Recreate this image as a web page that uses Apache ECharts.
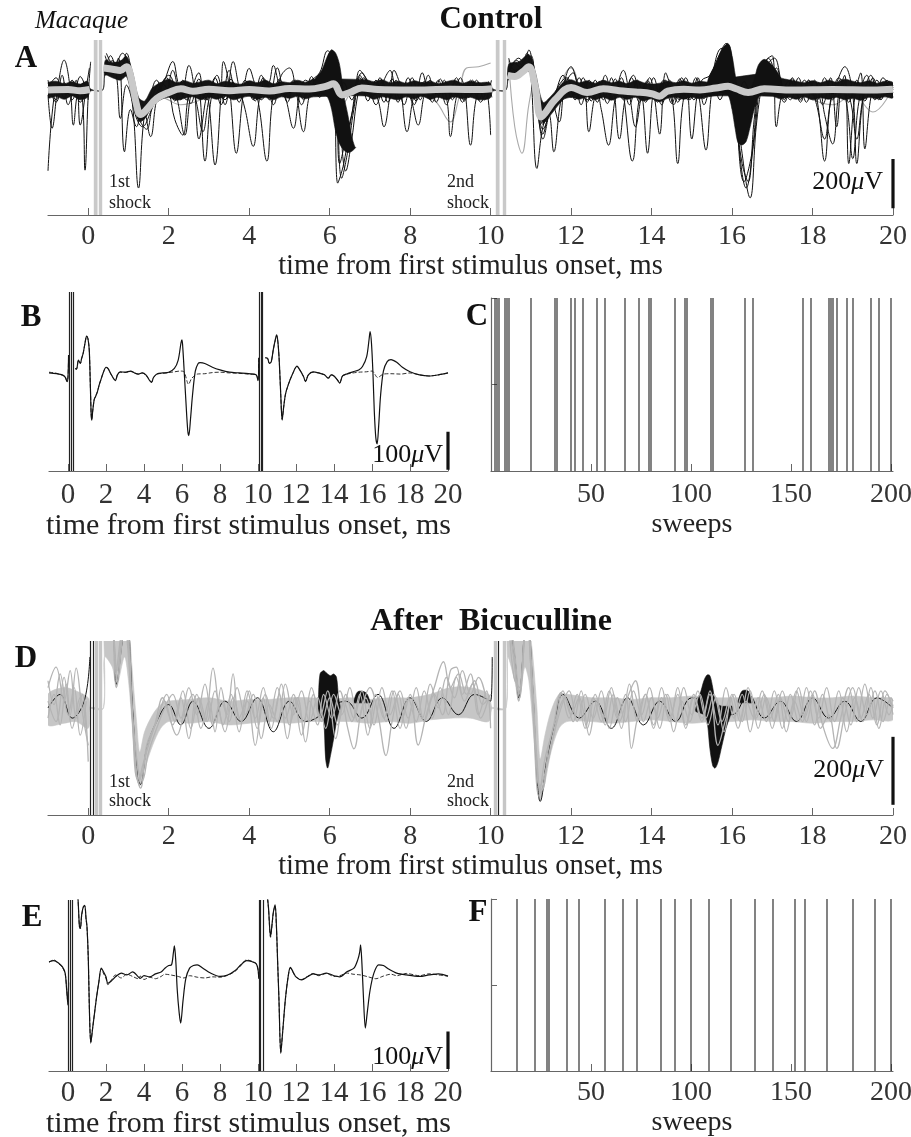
<!DOCTYPE html>
<html>
<head>
<meta charset="utf-8">
<title>Macaque - Control / After Bicuculline</title>
<script src="https://cdn.jsdelivr.net/npm/echarts@6/dist/echarts.min.js"></script>
<style>
  html, body { margin: 0; padding: 0; background: #fff; }
  #main { width: 911px; height: 1137px; }
</style>
</head>
<body>
<div id="main"></div>
<script>
// ---------- tick labels ----------
const timeTicks = [0, 2, 4, 6, 8, 10, 12, 14, 16, 18, 20];
const sweepTicks = [50, 100, 150, 200];

// ---------- panel A (control, single sweeps), [ms, uV] ----------
const aMean = [[-1,0],[-0.5,2],[-0.2,-3],[0.04,2],[0.1,'-'],[0.38,90],[0.6,85],[0.8,80],[0.95,95],[1.05,60],[1.2,-60],[1.3,-100],[1.45,-80],[1.7,-35],[2.0,-10],[2.3,5],[2.6,-5],[3.0,3],[3.5,-3],[4.0,2],[4.5,-4],[5.0,6],[5.5,4],[5.9,15],[6.1,25],[6.3,-20],[6.5,-10],[6.8,8],[7.2,2],[8,0],[9,3],[9.8,2],[10.04,5],[10.1,'-'],[10.42,60],[10.6,55],[10.8,75],[10.95,95],[11.1,20],[11.25,-110],[11.35,-95],[11.6,-40],[12.0,10],[12.4,-10],[12.8,5],[13.2,-3],[13.6,-8],[14.0,-15],[14.2,-25],[14.4,-5],[14.8,3],[15.2,0],[15.6,8],[15.9,15],[16.1,5],[16.4,-10],[16.8,5],[17.5,0],[18.5,2],[19.5,0],[20,3]];
// dense black cloud of sweeps: [ms, low, high]
const aBand = [[-1,-32,28],[-0.8,-26,36],[-0.6,-38,26],[-0.4,-24,34],[-0.2,-40,24],[-0.02,-30,36],[0.06,-4,4],[0.36,0,0],[0.42,60,120],[0.6,50,112],[0.8,40,118],[0.95,55,138],[1.1,-40,75],[1.25,-125,-30],[1.4,-118,-45],[1.6,-65,10],[1.8,-40,30],[2.0,-30,44],[2.2,-42,30],[2.4,-34,38],[2.6,-28,28],[2.8,-40,34],[3.0,-30,40],[3.2,-38,26],[3.4,-26,36],[3.6,-40,30],[3.8,-32,24],[4.0,-26,38],[4.2,-38,30],[4.4,-30,40],[4.6,-40,26],[4.8,-28,34],[5.0,-34,30],[5.2,-26,40],[5.4,-36,32],[5.6,-28,44],[6.9,-24,42],[7.1,-38,34],[7.3,-28,42],[7.5,-34,30],[7.7,-40,36],[7.9,-28,28],[8.1,-36,38],[8.3,-26,30],[8.5,-38,36],[8.7,-30,26],[8.9,-40,34],[9.1,-28,40],[9.3,-36,28],[9.5,-30,36],[9.7,-40,30],[9.98,-34,30],[10.06,-4,4],[10.38,0,0],[10.45,45,105],[10.7,55,115],[10.95,75,145],[11.1,-10,80],[11.3,-135,-50],[11.5,-100,-25],[11.8,-40,30],[12.0,-30,42],[12.2,-38,30],[12.4,-28,38],[12.6,-40,28],[12.8,-30,40],[13.0,-42,30],[13.2,-30,36],[13.4,-38,26],[13.6,-30,40],[13.8,-44,30],[14.0,-36,24],[14.2,-48,28],[14.4,-34,36],[14.6,-30,30],[14.8,-38,38],[15.0,-30,28],[15.2,-36,36],[15.4,-28,32],[15.6,-24,40],[17.0,-26,70],[17.2,-36,50],[17.4,-30,42],[17.6,-38,36],[17.8,-28,30],[18.0,-40,38],[18.2,-32,30],[18.4,-38,40],[18.6,-30,32],[18.8,-40,44],[19.0,-34,36],[19.2,-42,30],[19.4,-30,38],[19.6,-36,28],[19.8,-28,36],[20,-32,30]];
const aSpike1 = [[5.6,-20,35],[5.8,-15,80],[5.95,-30,140],[6.05,-80,163],[6.15,-170,150],[6.25,-220,100],[6.35,-245,-20],[6.45,-255,-100],[6.55,-250,-190],[6.62,-240,-230],[6.65,-235,-235]];
const aSpike2 = [[15.4,-20,40],[15.6,-15,110],[15.75,-10,165],[15.9,-20,190],[16.0,-80,140],[16.08,-160,60],[16.15,-215,0],[16.25,-224,-20],[16.35,-210,-15],[16.45,-150,0],[16.55,-80,40],[16.65,-30,100],[16.8,-10,125],[17.0,-15,100],[17.2,-20,50]];
const aSweep1 = [[-1,-330],[-0.85,-30],[-0.7,25],[-0.5,-15],[-0.3,20],[-0.15,-30],[-0.08,-327],[0,-20],[0.06,115],[0.1,'-'],[0.4,70],[0.55,140],[0.7,60],[0.8,-116],[0.95,20],[1.1,-60],[1.25,-400],[1.4,-100],[1.6,-20],[1.8,30],[2.0,-10],[2.15,-120],[2.35,-184],[2.5,-20],[2.7,30],[2.9,-290],[3.05,-40],[3.2,20],[3.4,-40],[3.6,30],[3.8,-20],[4.0,25],[4.2,-30],[4.44,-290],[4.6,-20],[4.8,30],[5.0,-10],[5.2,20],[5.4,-20],[5.6,10],[5.8,60],[6.0,140],[6.1,150],[6.2,-380],[6.35,-300],[6.55,-100],[6.75,60],[6.9,20],[7.1,-20],[7.3,30],[7.5,-30],[7.7,20],[7.92,-170],[8.1,-20],[8.3,30],[8.5,-25],[8.7,20],[8.9,-30],[9.0,-190],[9.15,-30],[9.3,20],[9.5,-20],[9.7,30],[9.9,-10],[10.02,40],[10.08,'-'],[10.42,60],[10.6,110],[10.75,90],[10.9,150],[11.0,60],[11.15,-320],[11.3,-150],[11.5,-60],[11.7,20],[11.9,50],[12.1,-20],[12.3,30],[12.44,-170],[12.6,-20],[12.8,40],[13.0,-30],[13.2,20],[13.52,-290],[13.7,-30],[13.9,30],[14.1,-20],[14.3,40],[14.5,-20],[14.65,-300],[14.8,-30],[15.0,20],[15.2,-20],[15.4,30],[15.6,100],[15.85,180],[16.0,60],[16.2,-200],[16.45,-440],[16.6,-150],[16.75,30],[16.9,130],[17.1,60],[17.3,-20],[17.5,30],[17.7,-20],[17.9,30],[18.1,-30],[18.3,-290],[18.45,-40],[18.6,30],[18.8,95],[19.0,-20],[19.1,-300],[19.25,-40],[19.4,30],[19.6,-20],[19.8,20],[20,-10]];
const aSweep2 = [[-1,-20],[-0.9,-156],[-0.75,20],[-0.6,122],[-0.45,10],[-0.37,-143],[-0.25,0],[-0.1,30],[0,-40],[0.08,'-'],[0.42,110],[0.6,90],[0.75,130],[0.9,-252],[1.05,-80],[1.2,-150],[1.35,-60],[1.55,-190],[1.7,-40],[1.9,40],[2.1,116],[2.25,20],[2.45,-40],[2.6,20],[2.75,-200],[2.95,-30],[3.15,-306],[3.3,-20],[3.36,116],[3.5,20],[3.68,-258],[3.85,-20],[4.0,88],[4.15,20],[4.3,-40],[4.5,30],[4.6,100],[4.75,20],[4.9,-30],[5.1,-156],[5.25,-20],[5.4,40],[5.6,20],[5.85,80],[6.05,163],[6.15,100],[6.3,-360],[6.45,-250],[6.6,-80],[6.8,70],[7.0,20],[7.2,-40],[7.35,-150],[7.5,-20],[7.6,80],[7.8,10],[8.0,-30],[8.2,-143],[8.35,-20],[8.5,40],[8.7,-20],[8.9,30],[9.1,-30],[9.3,20],[9.5,-225],[9.65,-30],[9.85,20],[10.0,-184],[10.05,'-'],[10.45,130],[10.6,80],[10.8,100],[10.95,163],[11.1,0],[11.3,-180],[11.45,-100],[11.57,-252],[11.75,-40],[12.0,95],[12.2,10],[12.4,-40],[12.6,20],[12.75,-80],[12.93,-225],[13.1,-30],[13.3,80],[13.45,-20],[13.6,-150],[13.75,-30],[13.9,-258],[14.05,-20],[14.2,-180],[14.35,70],[14.5,10],[14.7,-40],[14.85,30],[15.0,-200],[15.15,-20],[15.35,-245],[15.5,0],[15.7,130],[15.9,185],[16.05,20],[16.3,-374],[16.5,-250],[16.65,0],[16.85,120],[17.0,140],[17.1,-150],[17.25,-10],[17.45,40],[17.6,-20],[17.8,40],[18.0,-20],[18.15,30],[18.3,-100],[18.5,-220],[18.65,-20],[18.8,60],[18.9,-300],[19.05,-30],[19.2,70],[19.3,-240],[19.45,-30],[19.6,40],[19.8,-20],[20,20]];
const aSweep3 = [[-1,30],[-0.8,-40],[-0.65,60],[-0.5,-60],[-0.3,40],[-0.2,-143],[-0.05,10],[0.03,90],[0.08,'-'],[0.45,150],[0.65,100],[0.85,150],[1.0,100],[1.15,-40],[1.3,-130],[1.5,-50],[1.7,40],[1.9,-30],[2.1,80],[2.3,-40],[2.5,100],[2.7,-60],[2.85,-170],[3.0,-40],[3.2,60],[3.4,-60],[3.6,116],[3.75,10],[3.9,-80],[4.1,-230],[4.25,-40],[4.4,40],[4.6,-60],[4.8,60],[5.0,90],[5.15,10],[5.35,-170],[5.5,-20],[5.7,40],[5.9,100],[6.0,150],[6.15,60],[6.25,-300],[6.4,-200],[6.6,-60],[6.75,80],[6.95,30],[7.15,-60],[7.35,40],[7.5,80],[7.7,-50],[7.9,30],[8.1,-60],[8.3,70],[8.5,-40],[8.7,40],[8.9,-60],[9.1,30],[9.3,-50],[9.5,40],[9.7,-40],[9.9,30],[10.03,-30],[10.08,'-'],[10.45,80],[10.7,130],[10.85,110],[11.0,140],[11.12,20],[11.3,-140],[11.5,-40],[11.7,-130],[11.85,20],[12.05,70],[12.25,-60],[12.45,40],[12.65,-50],[12.85,60],[13.05,-40],[13.25,50],[13.45,-60],[13.65,40],[13.85,-50],[14.05,50],[14.25,-60],[14.45,40],[14.65,-50],[14.85,50],[15.05,-40],[15.25,40],[15.45,60],[15.7,150],[15.85,190],[16.0,100],[16.15,-200],[16.35,-400],[16.55,-200],[16.7,20],[16.9,100],[17.1,30],[17.3,-50],[17.5,50],[17.7,-40],[17.9,40],[18.1,-60],[18.3,-200],[18.45,-50],[18.65,50],[18.85,-60],[19.0,-280],[19.15,-50],[19.35,60],[19.55,-40],[19.75,50],[20,-30]];
const aSweep4 = [[-1,10],[-0.8,50],[-0.6,-30],[-0.4,40],[-0.2,-50],[0,20],[0.08,'-'],[0.42,60],[0.6,120],[0.8,70],[0.95,150],[1.1,40],[1.25,-110],[1.45,-160],[1.6,-60],[1.8,20],[2.0,60],[2.2,-30],[2.4,-184],[2.55,-20],[2.75,70],[2.9,-40],[3.1,30],[3.3,-60],[3.5,80],[3.7,-30],[3.9,40],[4.1,-40],[4.3,60],[4.5,-40],[4.7,90],[4.9,-20],[5.1,40],[5.3,-60],[5.5,30],[5.75,70],[5.95,160],[6.1,120],[6.25,-120],[6.4,-330],[6.55,-200],[6.7,-20],[6.85,50],[7.05,-30],[7.25,50],[7.45,-50],[7.65,40],[7.85,-60],[8.05,50],[8.25,-40],[8.45,60],[8.65,-50],[8.85,40],[9.05,-40],[9.25,50],[9.45,-30],[9.65,40],[9.85,-40],[10.0,20],[10.06,'-'],[10.45,90],[10.65,60],[10.85,120],[11.0,100],[11.15,-50],[11.3,-200],[11.45,-100],[11.6,-20],[11.8,60],[12.0,-30],[12.2,50],[12.4,-50],[12.6,40],[12.8,-40],[13.0,50],[13.2,-200],[13.35,-30],[13.55,60],[13.75,-40],[13.95,50],[14.15,-50],[14.35,40],[14.55,-60],[14.75,50],[14.95,-40],[15.15,50],[15.3,-60],[15.5,60],[15.75,170],[15.95,160],[16.1,-100],[16.25,-300],[16.4,-374],[16.55,-120],[16.7,60],[16.9,110],[17.05,130],[17.25,20],[17.45,-40],[17.65,50],[17.85,-50],[18.05,40],[18.25,-60],[18.45,50],[18.6,-150],[18.75,40],[18.95,-50],[19.1,-200],[19.25,-40],[19.45,60],[19.65,-40],[19.85,40],[20,0]];
const aSweep5 = [[-1,40],[-0.8,-50],[-0.6,30],[-0.4,-40],[-0.2,55],[0,-30],[0.08,'-'],[0.42,140],[0.62,70],[0.82,120],[1.0,60],[1.15,-90],[1.35,-150],[1.55,-90],[1.75,-10],[1.95,50],[2.15,-45],[2.35,40],[2.55,-55],[2.75,45],[2.95,-40],[3.15,50],[3.35,-35],[3.55,45],[3.75,-50],[3.95,35],[4.15,-45],[4.35,50],[4.55,-35],[4.75,45],[4.95,-50],[5.15,40],[5.35,-40],[5.55,55],[5.75,-30],[5.95,40],[6.15,-50],[6.35,30],[6.55,-40],[6.75,50],[6.95,-45],[7.15,40],[7.35,-50],[7.55,45],[7.75,-35],[7.95,50],[8.15,-45],[8.35,35],[8.55,-50],[8.75,45],[8.95,-40],[9.15,50],[9.35,-45],[9.55,40],[9.75,-50],[9.95,35],[10.05,'-'],[10.45,70],[10.65,120],[10.85,90],[11.0,130],[11.15,-20],[11.3,-160],[11.5,-80],[11.7,0],[11.9,45],[12.1,-40],[12.3,50],[12.5,-45],[12.7,35],[12.9,-55],[13.1,45],[13.3,-40],[13.5,50],[13.7,-50],[13.9,40],[14.1,-45],[14.3,30],[14.5,-55],[14.7,45],[14.9,-40],[15.1,50],[15.3,-35],[15.5,45],[15.7,-40],[15.9,40],[16.1,-50],[16.3,35],[16.5,-40],[16.7,70],[16.9,40],[17.1,90],[17.3,-40],[17.5,45],[17.7,-50],[17.9,40],[18.1,-45],[18.3,50],[18.5,-40],[18.7,45],[18.9,-50],[19.1,40],[19.3,-45],[19.5,50],[19.7,-40],[19.9,35],[20,10]];
const aGraySweep = [[-1,10],[-0.5,-20],[0,15],[0.08,'-'],[0.45,120],[0.9,90],[1.3,-90],[1.8,-30],[2.3,-60],[2.8,-40],[3.3,10],[4,-10],[5,15],[6,30],[6.3,-60],[6.7,20],[7.5,-10],[8.3,20],[8.7,-60],[9.0,-130],[9.2,-40],[9.4,90],[9.7,95],[10.0,110],[10.05,'-'],[10.45,120],[10.6,-150],[10.78,-258],[10.95,-60],[11.1,40],[11.3,-110],[11.6,-30],[12.0,90],[12.4,-40],[13,10],[14,-20],[15,10],[16,20],[16.3,-40],[17,20],[18,-40],[18.5,-60],[19,-20],[19.5,-90],[20,10]];
const aShockGray = [0.165, 0.295, 10.16, 10.345];
const aShockBlack = [0.21, 10.2];
const aScale = [-482, -282];

// ---------- panel B (control, averages) ----------
const bWithSpike = [[-1,0],[-0.6,-2],[-0.3,-5],[-0.15,-11],[-0.05,-23],[0.0,-10],[0.03,47],[0.05,'-'],[0.38,12],[0.45,10],[0.55,34],[0.65,25],[0.72,39],[0.8,52],[0.9,80],[0.98,97],[1.05,90],[1.12,60],[1.18,-40],[1.22,-110],[1.25,-124],[1.3,-100],[1.38,-70],[1.45,-62],[1.55,-49],[1.65,-30],[1.75,-15],[1.85,0],[2.0,15],[2.1,12],[2.25,-2],[2.4,-15],[2.5,-20],[2.6,-5],[2.75,3],[3.0,2],[3.3,5],[3.5,0],[3.7,-3],[3.9,0],[4.1,-5],[4.3,-20],[4.4,-25],[4.5,-12],[4.7,-2],[5.0,0],[5.3,2],[5.6,12],[5.8,34],[5.95,80],[6.0,87],[6.05,60],[6.12,0],[6.2,-70],[6.3,-150],[6.36,-165],[6.45,-120],[6.55,-60],[6.7,5],[6.85,25],[6.95,27],[7.2,25],[7.6,15],[8.0,8],[8.5,2],[9.0,0],[9.5,-2],[9.9,-5],[10.0,-20],[10.04,40],[10.06,'-'],[10.38,40],[10.5,39],[10.6,25],[10.7,30],[10.8,60],[10.9,85],[10.98,100],[11.05,80],[11.12,30],[11.2,-60],[11.27,-124],[11.35,-90],[11.45,-55],[11.6,-30],[11.8,-5],[12.05,18],[12.2,8],[12.4,-10],[12.5,-23],[12.65,-5],[12.9,3],[13.2,0],[13.5,-5],[13.7,-14],[13.85,-5],[14.0,-8],[14.2,-20],[14.3,-27],[14.45,-8],[14.7,-2],[15.0,3],[15.3,8],[15.5,17],[15.72,43],[15.85,90],[15.9,109],[15.97,80],[16.05,0],[16.12,-100],[16.2,-170],[16.27,-187],[16.35,-140],[16.45,-60],[16.6,5],[16.8,30],[17.0,35],[17.3,28],[17.6,15],[18.0,3],[18.5,-5],[19.0,-8],[19.5,-5],[20,0]];
const bNoSpike = [[-1,2],[-0.6,-1],[-0.3,-6],[-0.15,-10],[-0.05,-22],[0.0,-10],[0.03,45],[0.05,'-'],[0.38,12],[0.45,10],[0.55,33],[0.65,25],[0.72,38],[0.8,52],[0.9,80],[0.98,96],[1.05,90],[1.12,60],[1.18,-40],[1.22,-108],[1.25,-122],[1.3,-100],[1.38,-70],[1.45,-62],[1.55,-49],[1.65,-30],[1.75,-15],[1.85,0],[2.0,14],[2.1,12],[2.25,-2],[2.4,-15],[2.5,-20],[2.6,-5],[2.75,2],[3.0,1],[3.3,4],[3.5,0],[3.7,-3],[3.9,0],[4.1,-6],[4.3,-19],[4.4,-24],[4.5,-12],[4.7,-3],[5.0,-1],[5.3,1],[5.6,3],[5.9,5],[6.1,3],[6.35,-30],[6.5,-15],[6.8,-3],[7.2,-2],[7.6,1],[8.0,2],[8.5,0],[9.0,-1],[9.5,-3],[9.9,-5],[10.0,-20],[10.04,40],[10.06,'-'],[10.38,40],[10.5,38],[10.6,25],[10.7,30],[10.8,60],[10.9,84],[10.98,99],[11.05,80],[11.12,30],[11.2,-60],[11.27,-122],[11.35,-90],[11.45,-55],[11.6,-30],[11.8,-5],[12.05,17],[12.2,8],[12.4,-10],[12.5,-22],[12.65,-5],[12.9,2],[13.2,0],[13.5,-5],[13.7,-13],[13.85,-5],[14.0,-8],[14.2,-19],[14.3,-26],[14.45,-8],[14.7,-3],[15.0,0],[15.3,2],[15.7,3],[16.0,5],[16.3,-12],[16.6,-3],[17.0,-2],[17.5,-3],[18.0,0],[18.5,-5],[19.0,-8],[19.5,-5],[20,0]];
const bShock = [0.05, 0.16, 0.25, 10.07, 10.15, 10.24];
const bScale = [-255, -155];

// ---------- panel C (control, sweeps with a spike) ----------
const cSweeps = [2,3,4,7,8,9,20,32,33,40,42,46,53,57,67,74,79,80,92,97,98,110,111,127,131,156,160,169,170,171,173,178,181,190,194,200];

// ---------- panel D (bicuculline, single sweeps) ----------
const dBand = [[-1,-50,40],[-0.6,-45,60],[-0.3,-40,50],[0,-60,30],[0.06,0,0],[0.38,0,0],[0.4,150,300],[0.6,120,300],[0.7,60,200],[0.9,150,300],[1.0,80,250],[1.1,-60,100],[1.2,-200,-40],[1.28,-230,-130],[1.4,-180,-70],[1.6,-110,-20],[1.8,-60,10],[2.0,-40,20],[2.5,-45,25],[3.0,-40,30],[3.5,-50,20],[4.0,-45,25],[4.5,-40,25],[5.0,-45,30],[5.5,-40,30],[6.0,-40,25],[6.5,-40,30],[7.0,-45,25],[7.5,-40,30],[8.0,-45,30],[8.5,-35,40],[9.0,-30,60],[9.5,-30,60],[9.95,-40,40],[10.05,0,0],[10.38,0,0],[10.42,150,300],[10.6,80,300],[10.7,20,200],[10.85,120,300],[10.95,80,250],[11.05,-50,150],[11.15,-200,0],[11.23,-270,-150],[11.35,-220,-80],[11.5,-130,-10],[11.7,-60,40],[11.9,-40,40],[12.5,-40,30],[13,-45,30],[13.5,-40,25],[14,-35,30],[14.5,-40,30],[15,-45,35],[15.5,-40,30],[16,-40,30],[16.5,-35,30],[17,-40,30],[17.5,-40,35],[18,-45,30],[18.5,-40,30],[19,-40,35],[19.5,-35,30],[20,-35,25]];
const dSpike1 = [[5.72,-10,20],[5.76,-20,100],[5.85,-40,110],[5.9,-150,105],[5.95,-177,100],[6.02,-140,95],[6.1,-90,100],[6.17,-40,90],[6.22,-15,30],[6.26,-5,5]];
const dSpike2 = [[15.1,-10,20],[15.2,-15,40],[15.3,-20,80],[15.38,-40,97],[15.45,-120,95],[15.52,-170,60],[15.58,-177,20],[15.65,-160,10],[15.75,-110,5],[15.85,-60,5],[15.95,-25,5],[16.0,-10,5]];
const dBump1 = [[6.6,15,20],[6.7,15,48],[6.9,15,45],[7.0,15,20]];
const dBump2 = [[16.15,15,20],[16.25,15,50],[16.4,15,50],[16.5,15,20]];
const dBlackSweep = [[-1,0],[-0.7,40],[-0.4,-30],[-0.1,20],[0.04,150],[0.05,'-'],[0.4,300],[0.6,240],[0.7,70],[0.88,220],[0.97,230],[1.1,0],[1.22,-200],[1.3,-225],[1.45,-120],[1.7,-40],[2.0,10],[2.3,-50],[2.6,20],[3.0,-60],[3.4,20],[3.8,-40],[4.2,30],[4.6,-70],[5.0,20],[5.4,-40],[6.4,20],[6.8,-30],[7.2,40],[7.6,-60],[8.0,30],[8.4,-40],[8.8,30],[9.2,-20],[9.6,40],[10.0,20],[10.04,150],[10.05,'-'],[10.42,300],[10.6,150],[10.7,30],[10.9,290],[11.05,50],[11.15,-200],[11.23,-275],[11.4,-150],[11.6,-40],[11.8,40],[12.2,-30],[12.6,20],[13.0,-60],[13.4,30],[13.8,-50],[14.2,20],[14.6,-40],[15.0,30],[16.0,-20],[16.4,40],[16.8,-30],[17.2,20],[17.6,-40],[18.0,30],[18.4,-30],[18.8,20],[19.2,-40],[19.6,30],[20,0]];
const dGraySweep1 = [[-1,60],[-0.8,120],[-0.6,20],[-0.45,110],[-0.3,-30],[-0.15,40],[0,-158],[0.05,'-'],[0.4,300],[0.55,300],[0.7,60],[0.85,200],[0.95,230],[1.05,50],[1.2,-190],[1.3,-236],[1.45,-110],[1.65,-50],[1.85,30],[2.0,-20],[2.2,-80],[2.4,-10],[2.6,40],[2.8,-60],[3.0,20],[3.15,-70],[3.3,60],[3.45,-20],[3.6,100],[3.75,-30],[3.95,20],[4.15,-110],[4.35,30],[4.5,-40],[4.7,60],[4.9,-30],[5.1,40],[5.3,-80],[5.5,20],[5.7,-50],[5.85,40],[6.05,-30],[6.25,50],[6.45,-60],[6.6,-120],[6.8,0],[7.0,60],[7.2,-20],[7.4,-140],[7.55,-40],[7.75,50],[7.95,-30],[8.15,60],[8.35,-40],[8.6,40],[8.8,-20],[9.0,110],[9.15,120],[9.3,40],[9.5,100],[9.7,-20],[9.9,50],[10.0,-60],[10.05,'-'],[10.42,300],[10.55,200],[10.7,20],[10.9,260],[11.05,0],[11.2,-260],[11.35,-150],[11.55,-60],[11.75,45],[11.95,-30],[12.15,40],[12.35,-60],[12.55,30],[12.75,-40],[12.95,50],[13.15,-30],[13.35,40],[13.5,-119],[13.65,-30],[13.85,40],[14.05,-60],[14.25,30],[14.45,-40],[14.65,60],[14.85,-50],[15.05,40],[15.25,-30],[15.45,50],[15.65,-110],[15.85,-30],[16.05,40],[16.25,-40],[16.45,50],[16.65,-60],[16.85,30],[17.05,-40],[17.25,50],[17.45,-30],[17.65,60],[17.85,-40],[18.05,50],[18.25,-50],[18.5,-119],[18.7,-30],[18.9,60],[19.1,-40],[19.3,70],[19.5,-30],[19.7,50],[19.9,-20],[20,10]];
const dGraySweep2 = [[-1,-30],[-0.85,40],[-0.7,-50],[-0.55,70],[-0.4,-60],[-0.2,30],[-0.05,-60],[0.05,'-'],[0.42,250],[0.6,220],[0.72,80],[0.9,250],[1.0,150],[1.12,-60],[1.25,-220],[1.35,-170],[1.55,-90],[1.75,-20],[1.95,40],[2.15,-40],[2.35,50],[2.55,-60],[2.75,30],[2.95,-40],[3.15,50],[3.35,-50],[3.55,40],[3.75,-70],[3.95,50],[4.15,-30],[4.35,60],[4.55,-60],[4.75,40],[4.95,-90],[5.15,30],[5.35,-40],[5.55,60],[5.75,-30],[5.95,50],[6.15,-90],[6.35,20],[6.55,-40],[6.75,40],[6.95,-80],[7.15,40],[7.35,-30],[7.55,50],[7.75,-60],[7.95,30],[8.15,-40],[8.35,50],[8.55,-30],[8.75,60],[8.95,-20],[9.15,90],[9.35,20],[9.55,70],[9.75,-30],[9.95,30],[10.05,'-'],[10.45,260],[10.6,120],[10.7,40],[10.9,280],[11.05,60],[11.18,-220],[11.28,-240],[11.45,-110],[11.65,-20],[11.85,30],[12.05,-40],[12.25,50],[12.45,-80],[12.65,20],[12.85,-50],[13.05,40],[13.25,-60],[13.45,70],[13.65,-40],[13.85,40],[14.05,-50],[14.25,60],[14.45,-30],[14.65,40],[14.85,-60],[15.05,30],[15.25,-40],[15.45,40],[15.65,-50],[15.85,60],[16.05,-30],[16.25,40],[16.45,-70],[16.65,30],[16.85,-40],[17.05,50],[17.25,-60],[17.45,40],[17.65,-40],[17.85,60],[18.05,-50],[18.25,40],[18.45,-40],[18.65,50],[18.85,-70],[19.05,30],[19.25,-40],[19.45,60],[19.65,-60],[19.85,40],[20,-20]];
const dGraySweep3 = [[-1,20],[-0.8,-40],[-0.6,90],[-0.45,-20],[-0.3,117],[-0.15,-10],[0,-110],[0.05,'-'],[0.45,300],[0.6,280],[0.68,100],[0.85,240],[0.97,260],[1.08,20],[1.22,-210],[1.32,-200],[1.5,-100],[1.7,-40],[1.9,20],[2.1,-50],[2.3,30],[2.5,-90],[2.7,40],[2.9,-40],[3.1,117],[3.25,0],[3.4,-70],[3.6,30],[3.8,-40],[4.0,50],[4.2,-60],[4.4,40],[4.6,-30],[4.8,70],[5.0,-50],[5.2,30],[5.4,-100],[5.6,40],[5.8,-40],[6.0,30],[6.2,-50],[6.4,40],[6.6,-30],[6.8,50],[7.0,-60],[7.2,30],[7.4,-40],[7.6,50],[7.8,-30],[8.0,40],[8.2,-109],[8.4,-20],[8.6,60],[8.83,136],[9.0,60],[9.2,100],[9.4,40],[9.6,80],[9.8,10],[10.0,40],[10.05,'-'],[10.45,300],[10.6,160],[10.72,30],[10.9,300],[11.02,80],[11.15,-150],[11.25,-250],[11.4,-170],[11.6,-60],[11.8,50],[12.0,-20],[12.2,30],[12.4,-60],[12.6,40],[12.8,-30],[13.0,60],[13.2,-40],[13.4,30],[13.6,80],[13.8,-40],[14.0,30],[14.2,-60],[14.4,40],[14.6,-40],[14.8,60],[15.0,-20],[15.2,40],[15.4,-50],[15.6,30],[15.8,-70],[16.0,40],[16.2,-40],[16.4,60],[16.6,-30],[16.8,40],[17.0,-60],[17.2,30],[17.4,-40],[17.6,50],[17.8,-30],[18.0,40],[18.2,-60],[18.4,-20],[18.6,-119],[18.8,-20],[19.0,60],[19.2,-30],[19.4,40],[19.6,-50],[19.8,50],[20,0]];
const dGraySweep4 = [[-1,80],[-0.85,10],[-0.7,100],[-0.5,-20],[-0.35,60],[-0.2,-80],[-0.05,20],[0.05,'-'],[0.42,280],[0.58,260],[0.72,110],[0.88,260],[1.0,180],[1.1,-20],[1.24,-180],[1.34,-215],[1.5,-130],[1.7,-60],[1.9,0],[2.1,40],[2.3,-30],[2.5,60],[2.7,-20],[2.9,70],[3.1,-50],[3.3,20],[3.5,-40],[3.7,60],[3.9,-20],[4.1,40],[4.3,-90],[4.5,10],[4.7,-40],[4.9,70],[5.1,-20],[5.3,50],[5.5,-40],[5.7,30],[5.9,-60],[6.1,40],[6.3,-20],[6.5,60],[6.7,-40],[6.9,30],[7.1,-50],[7.3,60],[7.5,-20],[7.7,40],[7.9,-60],[8.1,20],[8.3,-30],[8.5,70],[8.7,0],[8.9,90],[9.1,30],[9.3,110],[9.5,40],[9.7,90],[9.9,20],[10.05,'-'],[10.44,280],[10.58,90],[10.72,60],[10.88,300],[11.0,120],[11.12,-120],[11.22,-230],[11.38,-180],[11.55,-90],[11.75,0],[11.95,50],[12.15,-40],[12.35,40],[12.55,-30],[12.75,50],[12.95,-60],[13.15,30],[13.35,-40],[13.55,50],[13.75,-20],[13.95,60],[14.15,-30],[14.35,40],[14.55,-70],[14.75,20],[14.95,-40],[15.15,50],[15.35,-30],[15.55,40],[15.75,-40],[15.95,30],[16.15,-60],[16.35,20],[16.55,-30],[16.75,50],[16.95,-30],[17.15,40],[17.35,-70],[17.55,20],[17.75,-40],[17.95,50],[18.15,-30],[18.35,60],[18.55,-40],[18.75,30],[18.95,-50],[19.15,60],[19.35,-20],[19.55,50],[19.75,-40],[19.95,30],[20,20]];
const dShockGray = [0.19, 0.3, 10.12, 10.35];
const dShockBlack = [0.06, 0.13, 10.2];
const dScale = [-285, -85];

// ---------- panel E (bicuculline, averages) ----------
const eWithSpike = [[-1,35],[-0.75,38],[-0.5,32],[-0.3,22],[-0.15,5],[-0.07,-40],[0.0,-80],[0.03,-20],[0.05,'-'],[0.38,240],[0.5,220],[0.6,130],[0.65,124],[0.72,160],[0.8,180],[0.88,185],[0.95,150],[1.0,128],[1.07,40],[1.13,-100],[1.2,-181],[1.3,-140],[1.4,-100],[1.5,-60],[1.62,-20],[1.75,18],[1.85,10],[2.0,-5],[2.1,-22],[2.3,-15],[2.5,-5],[2.8,5],[3.1,0],[3.4,8],[3.7,-5],[3.8,-9],[4.0,-2],[4.3,-5],[4.6,3],[4.9,8],[5.1,18],[5.3,25],[5.45,27],[5.55,60],[5.6,77],[5.67,40],[5.75,-40],[5.85,-100],[5.93,-128],[6.05,-70],[6.2,-10],[6.4,18],[6.6,25],[6.8,27],[7.1,18],[7.5,5],[8.0,-4],[8.4,0],[8.8,12],[9.1,27],[9.4,38],[9.7,35],[9.9,30],[10.0,15],[10.04,-10],[10.06,'-'],[10.4,250],[10.55,180],[10.66,102],[10.75,140],[10.8,164],[10.9,186],[10.97,130],[11.03,40],[11.1,-60],[11.2,-208],[11.3,-150],[11.45,-60],[11.6,0],[11.7,20],[11.85,8],[12.0,-5],[12.3,-13],[12.6,-5],[12.9,3],[13.2,0],[13.6,5],[14.0,-2],[14.3,-5],[14.7,9],[15.05,18],[15.25,40],[15.35,60],[15.4,80],[15.47,30],[15.55,-60],[15.65,-141],[15.75,-100],[15.9,-40],[16.1,5],[16.35,27],[16.6,25],[16.9,15],[17.3,5],[17.8,0],[18.5,-4],[19.0,0],[19.5,3],[20,-3]];
const eNoSpike = [[-1,33],[-0.75,40],[-0.5,30],[-0.3,20],[-0.15,4],[-0.07,-38],[0.0,-78],[0.03,-20],[0.05,'-'],[0.38,240],[0.5,218],[0.6,128],[0.65,122],[0.72,158],[0.8,178],[0.88,183],[0.95,148],[1.0,126],[1.07,40],[1.13,-98],[1.2,-178],[1.3,-140],[1.4,-100],[1.5,-60],[1.62,-20],[1.75,16],[1.85,6],[2.0,-10],[2.1,-26],[2.3,-12],[2.5,0],[2.8,-8],[3.1,2],[3.4,-4],[3.7,-10],[3.8,-3],[4.0,-12],[4.3,-6],[4.6,-10],[4.9,-4],[5.1,2],[5.4,0],[5.8,-4],[6.1,-8],[6.4,-2],[6.8,-6],[7.2,-8],[7.6,-5],[8.0,-6],[8.4,-1],[8.8,10],[9.1,25],[9.4,40],[9.7,36],[9.9,30],[10.0,15],[10.04,-10],[10.06,'-'],[10.4,250],[10.55,178],[10.66,100],[10.75,138],[10.8,162],[10.9,184],[10.97,128],[11.03,40],[11.1,-60],[11.2,-205],[11.3,-150],[11.45,-60],[11.6,0],[11.7,18],[11.85,6],[12.0,-6],[12.3,-12],[12.6,-4],[12.9,4],[13.2,-2],[13.6,4],[14.0,-4],[14.3,-2],[14.7,5],[15.0,2],[15.4,0],[15.8,-5],[16.2,-10],[16.6,-3],[17.0,2],[17.3,-2],[17.8,4],[18.5,-2],[19.0,3],[19.5,0],[20,-3]];
const eShock = [0.03, 0.12, 0.24, 10.04, 10.13, 10.25];
const eScale = [-250, -150];

// ---------- panel F (bicuculline, sweeps with a spike) ----------
const fSweeps = [13,22,28,29,38,44,57,66,73,85,92,100,109,120,132,141,152,157,168,181,192,200];

// ---------- layout / helpers ----------
const FONT = 'Liberation Serif';
const INK = '#222';
const AX = '#666';

const grids = [
  { left: 48, top: 40, width: 845, height: 175 },   // A
  { left: 49, top: 292, width: 399, height: 179 },  // B
  { left: 491, top: 298, width: 402, height: 173 }, // C
  { left: 48, top: 641, width: 845, height: 174 },  // D
  { left: 49, top: 900, width: 399, height: 171 },  // E
  { left: 491, top: 899, width: 402, height: 172 }  // F
].map(g => Object.assign({ containLabel: false, outerBoundsMode: 'none', show: false }, g));

function baseX(gi, min, max, ticks, name, nameSize, labelSize, nameGap, labelMargin) {
  return {
    gridIndex: gi, type: 'value', min: min, max: max,
    name: name, nameLocation: 'middle', nameGap: nameGap,
    nameTextStyle: { fontFamily: FONT, fontSize: nameSize, color: INK },
    axisLine: { show: true, onZero: false, lineStyle: { color: AX, width: 1.2 } },
    axisTick: { show: true, inside: true, length: 7, customValues: ticks, lineStyle: { color: AX } },
    axisLabel: { customValues: ticks, fontFamily: FONT, fontSize: labelSize, color: '#333', margin: labelMargin },
    splitLine: { show: false }
  };
}
function timeAxis(gi, nameSize, labelSize, nameGap, labelMargin) {
  return baseX(gi, -1, 20, timeTicks, 'time from first stimulus onset, ms', nameSize, labelSize, nameGap, labelMargin);
}
function sweepAxis(gi, nameGap, labelMargin) {
  return baseX(gi, 0, 201, sweepTicks, 'sweeps', 28, 28, nameGap, labelMargin);
}
function hiddenY(gi, min, max) {
  return { gridIndex: gi, type: 'value', min: min, max: max, show: false, splitLine: { show: false } };
}
function sweepY(gi) {
  return {
    gridIndex: gi, type: 'value', min: 0, max: 1,
    axisLine: { show: true, onZero: false, lineStyle: { color: AX, width: 1.2 } },
    axisTick: { show: true, inside: true, length: 6, customValues: [0, 0.5, 1], lineStyle: { color: AX } },
    axisLabel: { show: false }, splitLine: { show: false }
  };
}

function trace(gi, data, color, width, z, dash, smooth) {
  return {
    type: 'line', xAxisIndex: gi, yAxisIndex: gi, data: data, z: z,
    symbol: 'none', showSymbol: false, silent: true, clip: true, connectNulls: false,
    smooth: smooth === undefined ? 0.4 : smooth,
    lineStyle: { color: color, width: width, type: dash || 'solid', join: 'round' },
    emphasis: { disabled: true }
  };
}
function band(gi, rows, color, z) {
  return {
    type: 'custom', xAxisIndex: gi, yAxisIndex: gi, data: rows, z: z, silent: true, clip: true,
    encode: { x: 0, y: [1, 2] },
    renderItem: function (params, api) {
      if (params.dataIndex !== 0) return null;
      const up = rows.map(r => api.coord([r[0], r[2]]));
      const dn = rows.map(r => api.coord([r[0], r[1]])).reverse();
      return { type: 'polygon', shape: { points: up.concat(dn), smooth: 0.3 }, style: { fill: color, stroke: color, lineWidth: 0.6 } };
    }
  };
}
function shocks(gi, times, color, width, z) {
  return {
    type: 'line', xAxisIndex: gi, yAxisIndex: gi, data: [], z: z, silent: true,
    markLine: {
      symbol: ['none', 'none'], silent: true, animation: false, label: { show: false },
      lineStyle: { color: color, width: width, type: 'solid' },
      emphasis: { disabled: true },
      data: times.map(t => ({ xAxis: t }))
    }
  };
}
function scaleBar(gi, span) {
  return {
    type: 'line', xAxisIndex: gi, yAxisIndex: gi, z: 20, silent: true, clip: false,
    symbol: 'none', data: [[20, span[0]], [20, span[1]]],
    lineStyle: { color: '#111', width: 3.2 }
  };
}
function sweepBars(gi, sweeps) {
  return {
    type: 'bar', xAxisIndex: gi, yAxisIndex: gi, silent: true, barWidth: 1.1,
    data: sweeps.map(s => [s, 1]), itemStyle: { color: '#1c1c1c' }
  };
}

function txt(x, y, text, size, opts) {
  opts = opts || {};
  return {
    type: 'text', x: x, y: y, silent: true,
    style: {
      text: text, fontFamily: FONT, fontSize: size, fill: opts.fill || '#111',
      fontWeight: opts.bold ? 'bold' : 'normal', fontStyle: opts.italic ? 'italic' : 'normal',
      align: opts.align || 'left', verticalAlign: 'middle',
      rich: { m: { fontFamily: FONT, fontSize: size, fontStyle: 'italic', fill: opts.fill || '#111' } }
    }
  };
}

const GRAY_MEAN = '#c9c9c9';
const GRAY_THIN = '#a9a9a9';
const GRAY_D = '#b4b4b4';

const series = [
  // A
  trace(0, aGraySweep, GRAY_THIN, 1.1, 2),
  band(0, aBand, '#151515', 3),
  trace(0, aSweep1, '#111', 1, 4),
  trace(0, aSweep2, '#111', 1, 4),
  trace(0, aSweep3, '#111', 1, 4),
  trace(0, aSweep4, '#111', 1, 4),
  trace(0, aSweep5, '#111', 1, 4),
  band(0, aSpike1, '#111', 5),
  band(0, aSpike2, '#111', 5),
  trace(0, aMean, GRAY_MEAN, 7, 6),
  shocks(0, aShockBlack, '#222', 1.2, 7),
  shocks(0, aShockGray, GRAY_MEAN, 3.4, 8),
  scaleBar(0, aScale),
  // B
  trace(1, bNoSpike, '#333', 1, 3, [4, 2], 0.3),
  trace(1, bWithSpike, '#111', 1.2, 4, null, 0.3),
  shocks(1, bShock, '#222', 1.2, 5),
  scaleBar(1, bScale),
  // C
  sweepBars(2, cSweeps),
  // D
  band(3, dBand, '#c6c6c6', 2),
  trace(3, dBlackSweep, '#111', 1, 3),
  band(3, dSpike1, '#111', 4),
  band(3, dSpike2, '#111', 4),
  band(3, dBump1, '#111', 4),
  band(3, dBump2, '#111', 4),
  trace(3, dGraySweep1, GRAY_D, 1.3, 5),
  trace(3, dGraySweep2, GRAY_D, 1.3, 5),
  trace(3, dGraySweep3, GRAY_D, 1.3, 5),
  trace(3, dGraySweep4, GRAY_D, 1.3, 5),
  shocks(3, dShockBlack, '#222', 1.2, 6),
  shocks(3, dShockGray, '#c6c6c6', 3.4, 7),
  scaleBar(3, dScale),
  // E
  trace(4, eNoSpike, '#333', 1, 3, [4, 2], 0.3),
  trace(4, eWithSpike, '#111', 1.2, 4, null, 0.3),
  shocks(4, eShock, '#222', 1.2, 5),
  scaleBar(4, eScale),
  // F
  sweepBars(5, fSweeps)
];

const chart = echarts.init(document.getElementById('main'), null, { renderer: 'canvas' });
chart.setOption({
  backgroundColor: '#fff',
  animation: false,
  textStyle: { fontFamily: FONT },
  grid: grids,
  xAxis: [
    timeAxis(0, 28.5, 28, 34, 8),
    timeAxis(1, 30, 29, 37, 10),
    sweepAxis(2, 40, 10),
    timeAxis(3, 28.5, 28, 36, 8),
    timeAxis(4, 30, 29, 37, 8),
    sweepAxis(5, 38, 8)
  ],
  yAxis: [
    hiddenY(0, -510, 204),
    hiddenY(1, -258, 213),
    sweepY(2),
    hiddenY(3, -315, 197),
    hiddenY(4, -255, 199),
    sweepY(5)
  ],
  series: series,
  graphic: [
    txt(35, 21, 'Macaque', 25, { italic: true }),
    txt(491, 20, 'Control', 31, { bold: true, align: 'center' }),
    txt(491, 622, 'After  Bicuculline', 32, { bold: true, align: 'center' }),
    txt(26, 59, 'A', 31, { bold: true, align: 'center' }),
    txt(31, 318, 'B', 31, { bold: true, align: 'center' }),
    txt(477, 317, 'C', 31, { bold: true, align: 'center' }),
    txt(26, 659, 'D', 31, { bold: true, align: 'center' }),
    txt(32, 918, 'E', 31, { bold: true, align: 'center' }),
    txt(478, 913, 'F', 31, { bold: true, align: 'center' }),
    txt(109, 182, '1st', 18, { fill: '#222' }),
    txt(109, 203, 'shock', 18, { fill: '#222' }),
    txt(447, 182, '2nd', 18, { fill: '#222' }),
    txt(447, 203, 'shock', 18, { fill: '#222' }),
    txt(109, 782, '1st', 18, { fill: '#222' }),
    txt(109, 801, 'shock', 18, { fill: '#222' }),
    txt(447, 782, '2nd', 18, { fill: '#222' }),
    txt(447, 801, 'shock', 18, { fill: '#222' }),
    txt(883, 182, '200{m|\u03bc}V', 26, { align: 'right' }),
    txt(443, 455, '100{m|\u03bc}V', 26, { align: 'right' }),
    txt(884, 770, '200{m|\u03bc}V', 26, { align: 'right' }),
    txt(443, 1057, '100{m|\u03bc}V', 26, { align: 'right' })
  ]
});
window.addEventListener('resize', () => chart.resize());
</script>
</body>
</html>
